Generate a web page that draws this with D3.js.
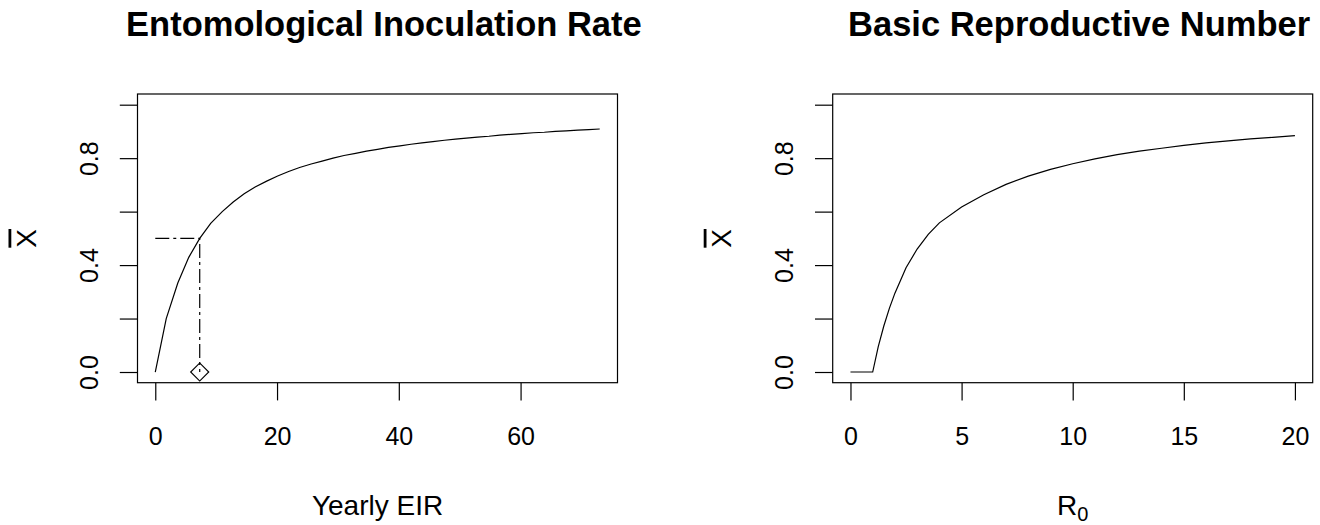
<!DOCTYPE html>
<html>
<head>
<meta charset="utf-8">
<script src="https://cdn.jsdelivr.net/npm/d3@7"></script>
<style>
  html, body { margin: 0; padding: 0; background: #fff; }
  svg { display: block; font-family: "Liberation Sans", Arial, Helvetica, sans-serif; }
</style>
</head>
<body>
<div id="app"></div>
<script>
// left panel: yearly EIR vs prevalence
const eir = [0, 1.8, 3.7, 5.5, 7.3, 9.1, 11, 12.8, 14.6, 16.4, 18.3, 20.1, 21.9, 23.7,
  25.6, 27.4, 29.2, 31, 32.9, 34.7, 36.5, 38.3, 40.2, 42, 43.8, 45.6, 47.5, 49.3,
  51.1, 52.9, 54.8, 56.6, 58.4, 60.2, 62.1, 63.9, 65.7, 67.5, 69.4, 71.2, 73];
const xEir = [0, 0.2, 0.333, 0.429, 0.5, 0.556, 0.6, 0.636, 0.667, 0.692, 0.714, 0.733,
  0.75, 0.765, 0.778, 0.789, 0.8, 0.81, 0.818, 0.826, 0.833, 0.84, 0.846, 0.852, 0.857,
  0.862, 0.867, 0.871, 0.875, 0.879, 0.882, 0.886, 0.889, 0.892, 0.895, 0.897, 0.9,
  0.902, 0.905, 0.907, 0.909];
const refEir = 7.3;
const refX = 0.5;

// right panel: R0 vs prevalence
const r0 = [0, 1, 1.25, 1.5, 1.75, 2, 2.5, 3, 3.5, 4, 5, 6, 7, 8, 9, 10, 11, 12, 13, 14,
  15, 16, 17, 18, 19, 20];
const xR0 = [0, 0, 0.095, 0.172, 0.238, 0.295, 0.39, 0.46, 0.515, 0.558, 0.617, 0.663,
  0.702, 0.733, 0.758, 0.779, 0.797, 0.813, 0.826, 0.837, 0.848, 0.857, 0.865, 0.872,
  0.878, 0.884];

const eirTicks = [0, 20, 40, 60];
const r0Ticks = [0, 5, 10, 15, 20];
const yTicks = [0, 0.2, 0.4, 0.6, 0.8, 1.0];
const yLabels = [0, 0.4, 0.8];

const width = 1320;
const height = 525;
const boxTop = 94;
const boxBottom = 382.7;
const boxW = 480;
const tickLen = 17.7;

const svg = d3.select("#app")
  .append("svg")
  .attr("width", width)
  .attr("height", height)
  .attr("viewBox", [0, 0, width, height]);

const y = d3.scaleLinear()
  .domain([-0.04, 1.04])
  .range([boxBottom, boxTop]);

function panel(left, xmax, xs, ys, xticks, title, xlab) {
  const pad = xmax * 0.04;
  const x = d3.scaleLinear()
    .domain([-pad, xmax + pad])
    .range([left, left + boxW]);
  const cx = left + boxW / 2;

  // x axis
  svg.append("g")
    .attr("transform", `translate(0,${boxBottom})`)
    .call(d3.axisBottom(x).tickValues(xticks).tickSize(tickLen).tickPadding(27).tickFormat(d3.format("d")))
    .call(g => g.select(".domain").remove())
    .call(g => g.selectAll(".tick line").attr("stroke", "#000").attr("stroke-width", 1.2))
    .call(g => g.selectAll(".tick text")
      .attr("fill", "#000")
      .attr("font-size", 25)
      .attr("font-family", "Liberation Sans, Arial, sans-serif"));

  // y axis, only some ticks labelled, labels turned like R does
  svg.append("g")
    .attr("transform", `translate(${left},0)`)
    .call(d3.axisLeft(y).tickValues(yTicks).tickSize(tickLen)
      .tickFormat(d => yLabels.includes(d) ? d.toFixed(1) : ""))
    .call(g => g.select(".domain").remove())
    .call(g => g.selectAll(".tick line").attr("stroke", "#000").attr("stroke-width", 1.2))
    .call(g => g.selectAll(".tick text")
      .attr("x", null)
      .attr("dy", null)
      .attr("fill", "#000")
      .attr("text-anchor", "middle")
      .attr("font-size", 25)
      .attr("font-family", "Liberation Sans, Arial, sans-serif")
      .attr("transform", "translate(-40,0) rotate(-90)"));

  // box
  svg.append("rect")
    .attr("x", left)
    .attr("y", boxTop)
    .attr("width", boxW)
    .attr("height", boxBottom - boxTop)
    .attr("fill", "none")
    .attr("stroke", "#000")
    .attr("stroke-width", 1.2);

  // curve
  const line = d3.line()
    .x((d, i) => x(xs[i]))
    .y(d => y(d));
  svg.append("path")
    .attr("d", line(ys))
    .attr("fill", "none")
    .attr("stroke", "#000")
    .attr("stroke-width", 1.2);

  // labels
  svg.append("text")
    .attr("x", cx + 6.4)
    .attr("y", 36)
    .attr("text-anchor", "middle")
    .attr("font-size", 34.5)
    .attr("font-weight", "bold")
    .text(title);

  const xl = svg.append("text")
    .attr("x", cx)
    .attr("y", 515)
    .attr("text-anchor", "middle")
    .attr("font-size", 28);
  if (xlab === "R0") {
    xl.append("tspan").text("R");
    xl.append("tspan").attr("font-size", 20).attr("dy", 6).text("0");
  } else {
    xl.text(xlab);
  }

  svg.append("text")
    .attr("transform", `translate(${left - 102},${(boxTop + boxBottom) / 2}) rotate(-90)`)
    .attr("text-anchor", "middle")
    .attr("font-size", 28)
    .style("text-decoration", "overline")
    .text("X");

  return x;
}

const xL = panel(137.5, 73, eir, xEir, eirTicks, "Entomological Inoculation Rate", "Yearly EIR");
panel(832.7, 20, r0, xR0, r0Ticks, "Basic Reproductive Number", "R0");

// dot-dash guide to the half-prevalence point
const guide = d3.line().x(d => xL(d[0])).y(d => y(d[1]));
svg.append("path")
  .attr("d", guide([[0, refX], [refEir, refX], [refEir, 0]]))
  .attr("fill", "none")
  .attr("stroke", "#000")
  .attr("stroke-width", 1.2)
  .attr("stroke-dasharray", "14,4,3,4");

svg.append("path")
  .attr("d", d3.symbol(d3.symbolSquare, 162)())
  .attr("transform", `translate(${xL(refEir)},${y(0)}) rotate(45)`)
  .attr("fill", "none")
  .attr("stroke", "#000")
  .attr("stroke-width", 1.2);
</script>
</body>
</html>
